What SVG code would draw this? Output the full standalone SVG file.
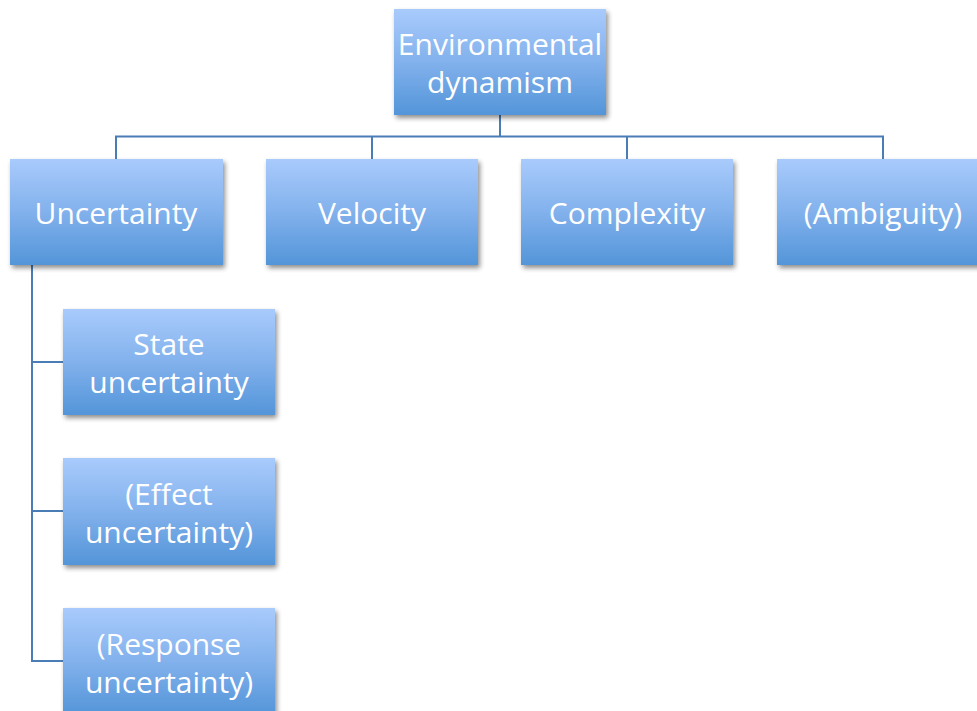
<svg xmlns="http://www.w3.org/2000/svg" width="977" height="711" viewBox="0 0 977 711">
<defs>
<linearGradient id="g" x1="0" y1="0" x2="0" y2="1">
<stop offset="0" stop-color="#a9cbfc"/>
<stop offset="0.5" stop-color="#82b1ec"/>
<stop offset="1" stop-color="#5395d9"/>
</linearGradient>
<filter id="sh" x="-10%" y="-10%" width="130%" height="130%">
<feGaussianBlur in="SourceAlpha" stdDeviation="2.5"/>
<feOffset dx="2" dy="3" result="b"/>
<feComponentTransfer><feFuncA type="linear" slope="0.45"/></feComponentTransfer>
<feMerge><feMergeNode/><feMergeNode in="SourceGraphic"/></feMerge>
</filter>
</defs>
<style>
.box{fill:url(#g);filter:url(#sh)}
.t{font-family:"Open Sans","Liberation Sans",sans-serif;font-size:30px;fill:#ffffff;text-anchor:middle}
.c{fill:none;stroke:#4a7db5;stroke-width:2}
</style>
<rect width="977" height="711" fill="#ffffff"/>
<g id="connectors">
<path class="c" d="M500 115V136.5M116 159V136.5H883V159M372 136.5V159M627 136.5V159"/>
<path class="c" d="M32 265V661H63M32 362H63M32 511H63"/>
</g>
<g id="n-env"><rect class="box" x="394" y="9" width="212" height="106"/><text class="t" x="500" y="55">Environmental</text><text class="t" x="500" y="93">dynamism</text></g>
<g id="n-unc"><rect class="box" x="10" y="159" width="213" height="106"/><text class="t" x="116" y="224">Uncertainty</text></g>
<g id="n-vel"><rect class="box" x="266" y="159" width="212" height="106"/><text class="t" x="372" y="224">Velocity</text></g>
<g id="n-com"><rect class="box" x="521" y="159" width="212" height="106"/><text class="t" x="627" y="224">Complexity</text></g>
<g id="n-amb"><rect class="box" x="777" y="159" width="213" height="106"/><text class="t" x="883" y="224">(Ambiguity)</text></g>
<g id="n-state"><rect class="box" x="63" y="309" width="212" height="106"/><text class="t" x="169" y="355">State</text><text class="t" x="169" y="393">uncertainty</text></g>
<g id="n-effect"><rect class="box" x="63" y="458" width="212" height="107"/><text class="t" x="169" y="505">(Effect</text><text class="t" x="169" y="543">uncertainty)</text></g>
<g id="n-resp"><rect class="box" x="63" y="608" width="212" height="107"/><text class="t" x="169" y="655">(Response</text><text class="t" x="169" y="693">uncertainty)</text></g>
</svg>
